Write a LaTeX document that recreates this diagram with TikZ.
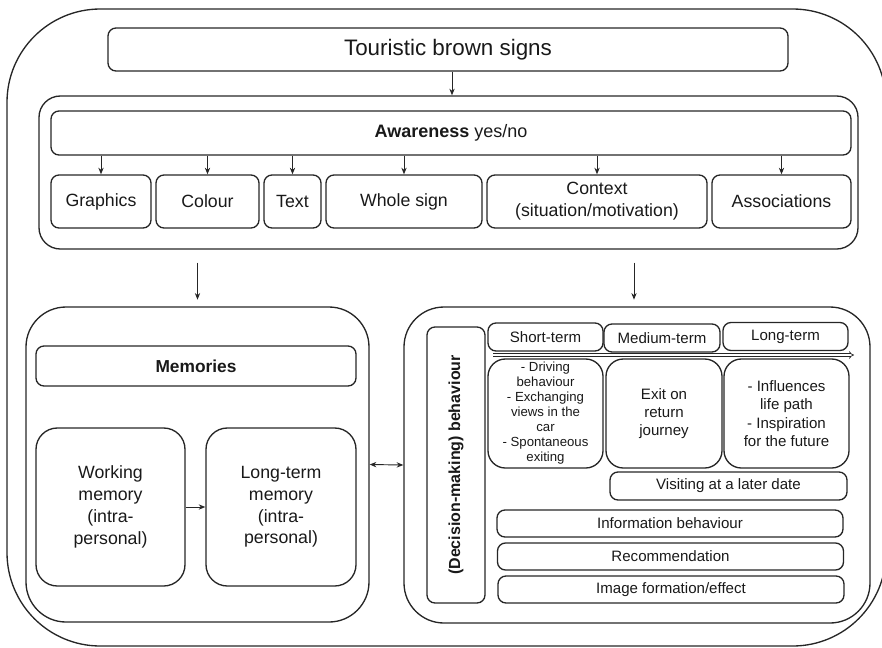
\documentclass[tikz,border=0pt]{standalone}
\usepackage{fontspec}
\setmainfont{Liberation Sans}
\usepackage{tikz}
\usetikzlibrary{arrows.meta,positioning,calc}

\begin{document}
\begin{tikzpicture}[x=0.75pt,y=-0.75pt,>={Stealth[length=5pt,width=4pt]},line width=1pt]
\tikzstyle{box}=[draw=black!85,rounded corners=6pt,align=center,inner sep=1pt,text=black!90]
\tikzstyle{item}=[box,minimum height=39.75pt,font=\fontsize{13.3}{16.3}\selectfont]
\tikzstyle{panel}=[draw=black!85,rounded corners=30pt]
\tikzstyle{term}=[box,minimum height=21pt,font=\fontsize{11.3}{13.7}\selectfont]
\tikzstyle{effect}=[box,rounded corners=13pt,minimum height=81.75pt,font=\fontsize{11.3}{13.7}\selectfont]
\tikzstyle{thin}=[line width=0.7pt,draw=black!85]
\useasboundingbox (0,0) rectangle (882,647);
% outer frame
\draw[draw=black!85,rounded corners=70pt] (7,9) rectangle (886,646);
\node[box,minimum width=510pt,minimum height=32.25pt,font=\fontsize{16.8}{20}\selectfont] (signs) at (448,49.5) {Touristic brown signs};
% awareness
\node[panel,rounded corners=16pt,minimum width=614.25pt,minimum height=114.75pt] (awc) at (448.5,172.5) {};
\node[box,minimum width=600pt,minimum height=33pt,font=\fontsize{13.5}{16}\selectfont] (aware) at (451,133) {\textbf{Awareness} yes/no};
\node[item,minimum width=75pt] (gra) at (101,201.5) {Graphics};
\node[item,minimum width=77.25pt] (col) at (207.5,201.5) {Colour};
\node[item,minimum width=42.75pt] (txt) at (292.5,201.5) {Text};
\node[item,minimum width=117pt] (whole) at (404,201.5) {Whole sign};
\node[item,minimum width=165pt] (ctx) at (597,201.5) {Context\\(situation/motivation)};
\node[item,minimum width=104.25pt] (asso) at (781.5,201.5) {Associations};
\draw[thin,->] (signs.south -| 452,0) -- (awc.north -| 452,0);
\foreach \n in {gra,col,txt,whole,ctx,asso}
  \draw[thin,->] (aware.south -| \n.north) -- (\n.north);
% memories
\node[panel,minimum width=257.25pt,minimum height=236.25pt] (mem) at (197.5,464.5) {};
\node[box,minimum width=240pt,minimum height=30pt,font=\bfseries\fontsize{13}{16}\selectfont] (memh) at (196,366) {Memories};
\node[box,rounded corners=16pt,minimum width=111.75pt,minimum height=118.5pt,font=\fontsize{13.3}{16.3}\selectfont] (work) at (110.5,507) {Working\\memory\\(intra-\\personal)};
\node[box,rounded corners=16pt,minimum width=112.5pt,minimum height=118.5pt,font=\fontsize{13.3}{16.3}\selectfont] (ltm) at (281,507) {Long-term\\memory\\(intra-\\personal)};
\draw[thin,->] (work.east) -- (ltm.west);
% decision-making behaviour
\node[panel,minimum width=349.5pt,minimum height=237pt] (dec) at (637,465) {};
\node[box,rotate=90,minimum width=207pt,minimum height=43.5pt,font=\bfseries\fontsize{12}{14}\selectfont] (dmb) at (456,465) {(Decision-making) behaviour};
\node[term,minimum width=86.25pt] (short) at (545.5,337) {Short-term};
\node[term,minimum width=87pt] (medium) at (662,338) {Medium-term};
\node[term,minimum width=93.75pt] (long) at (785.5,336.5) {Long-term};
\coordinate (tl0) at (493,355);
\coordinate (tl1) at (854,355);
\draw[line width=0.5pt,draw=black!85,double,double distance=1.4pt,-{Implies}] (tl0) -- (tl1);
\node[effect,minimum width=86.25pt,font=\fontsize{9.9}{11.25}\selectfont] (eff1) at (545.5,413.5) {- Driving\\behaviour\\- Exchanging\\views in the\\car\\- Spontaneous\\exiting};
\node[effect,minimum width=87pt] (eff2) at (664,413.5) {Exit on\\return\\journey};
\node[effect,minimum width=93.75pt] (eff3) at (786.5,413.5) {- Influences\\life path\\- Inspiration\\for the future};
\node[term,minimum width=177.75pt] (visit) at (728.5,486) {Visiting at a later date};
\node[term,minimum width=259.5pt,minimum height=20.25pt] (info) at (670,523.5) {Information behaviour};
\node[term,minimum width=259.5pt,minimum height=20.25pt] (reco) at (670.5,556.5) {Recommendation};
\node[term,minimum width=259.5pt,minimum height=20.25pt] (image) at (671,589.5) {Image formation/effect};
% links between panels
\draw[thin,->,shorten <=9.75pt,shorten >=5pt] (awc.south -| mem.north) -- (mem.north);
\draw[thin,->,shorten <=9.75pt,shorten >=5pt] (awc.south -| 634,0) -- (dec.north -| 634,0);
\draw[thin,<->] (mem.east) -- (dec.west);
\end{tikzpicture}
\end{document}
